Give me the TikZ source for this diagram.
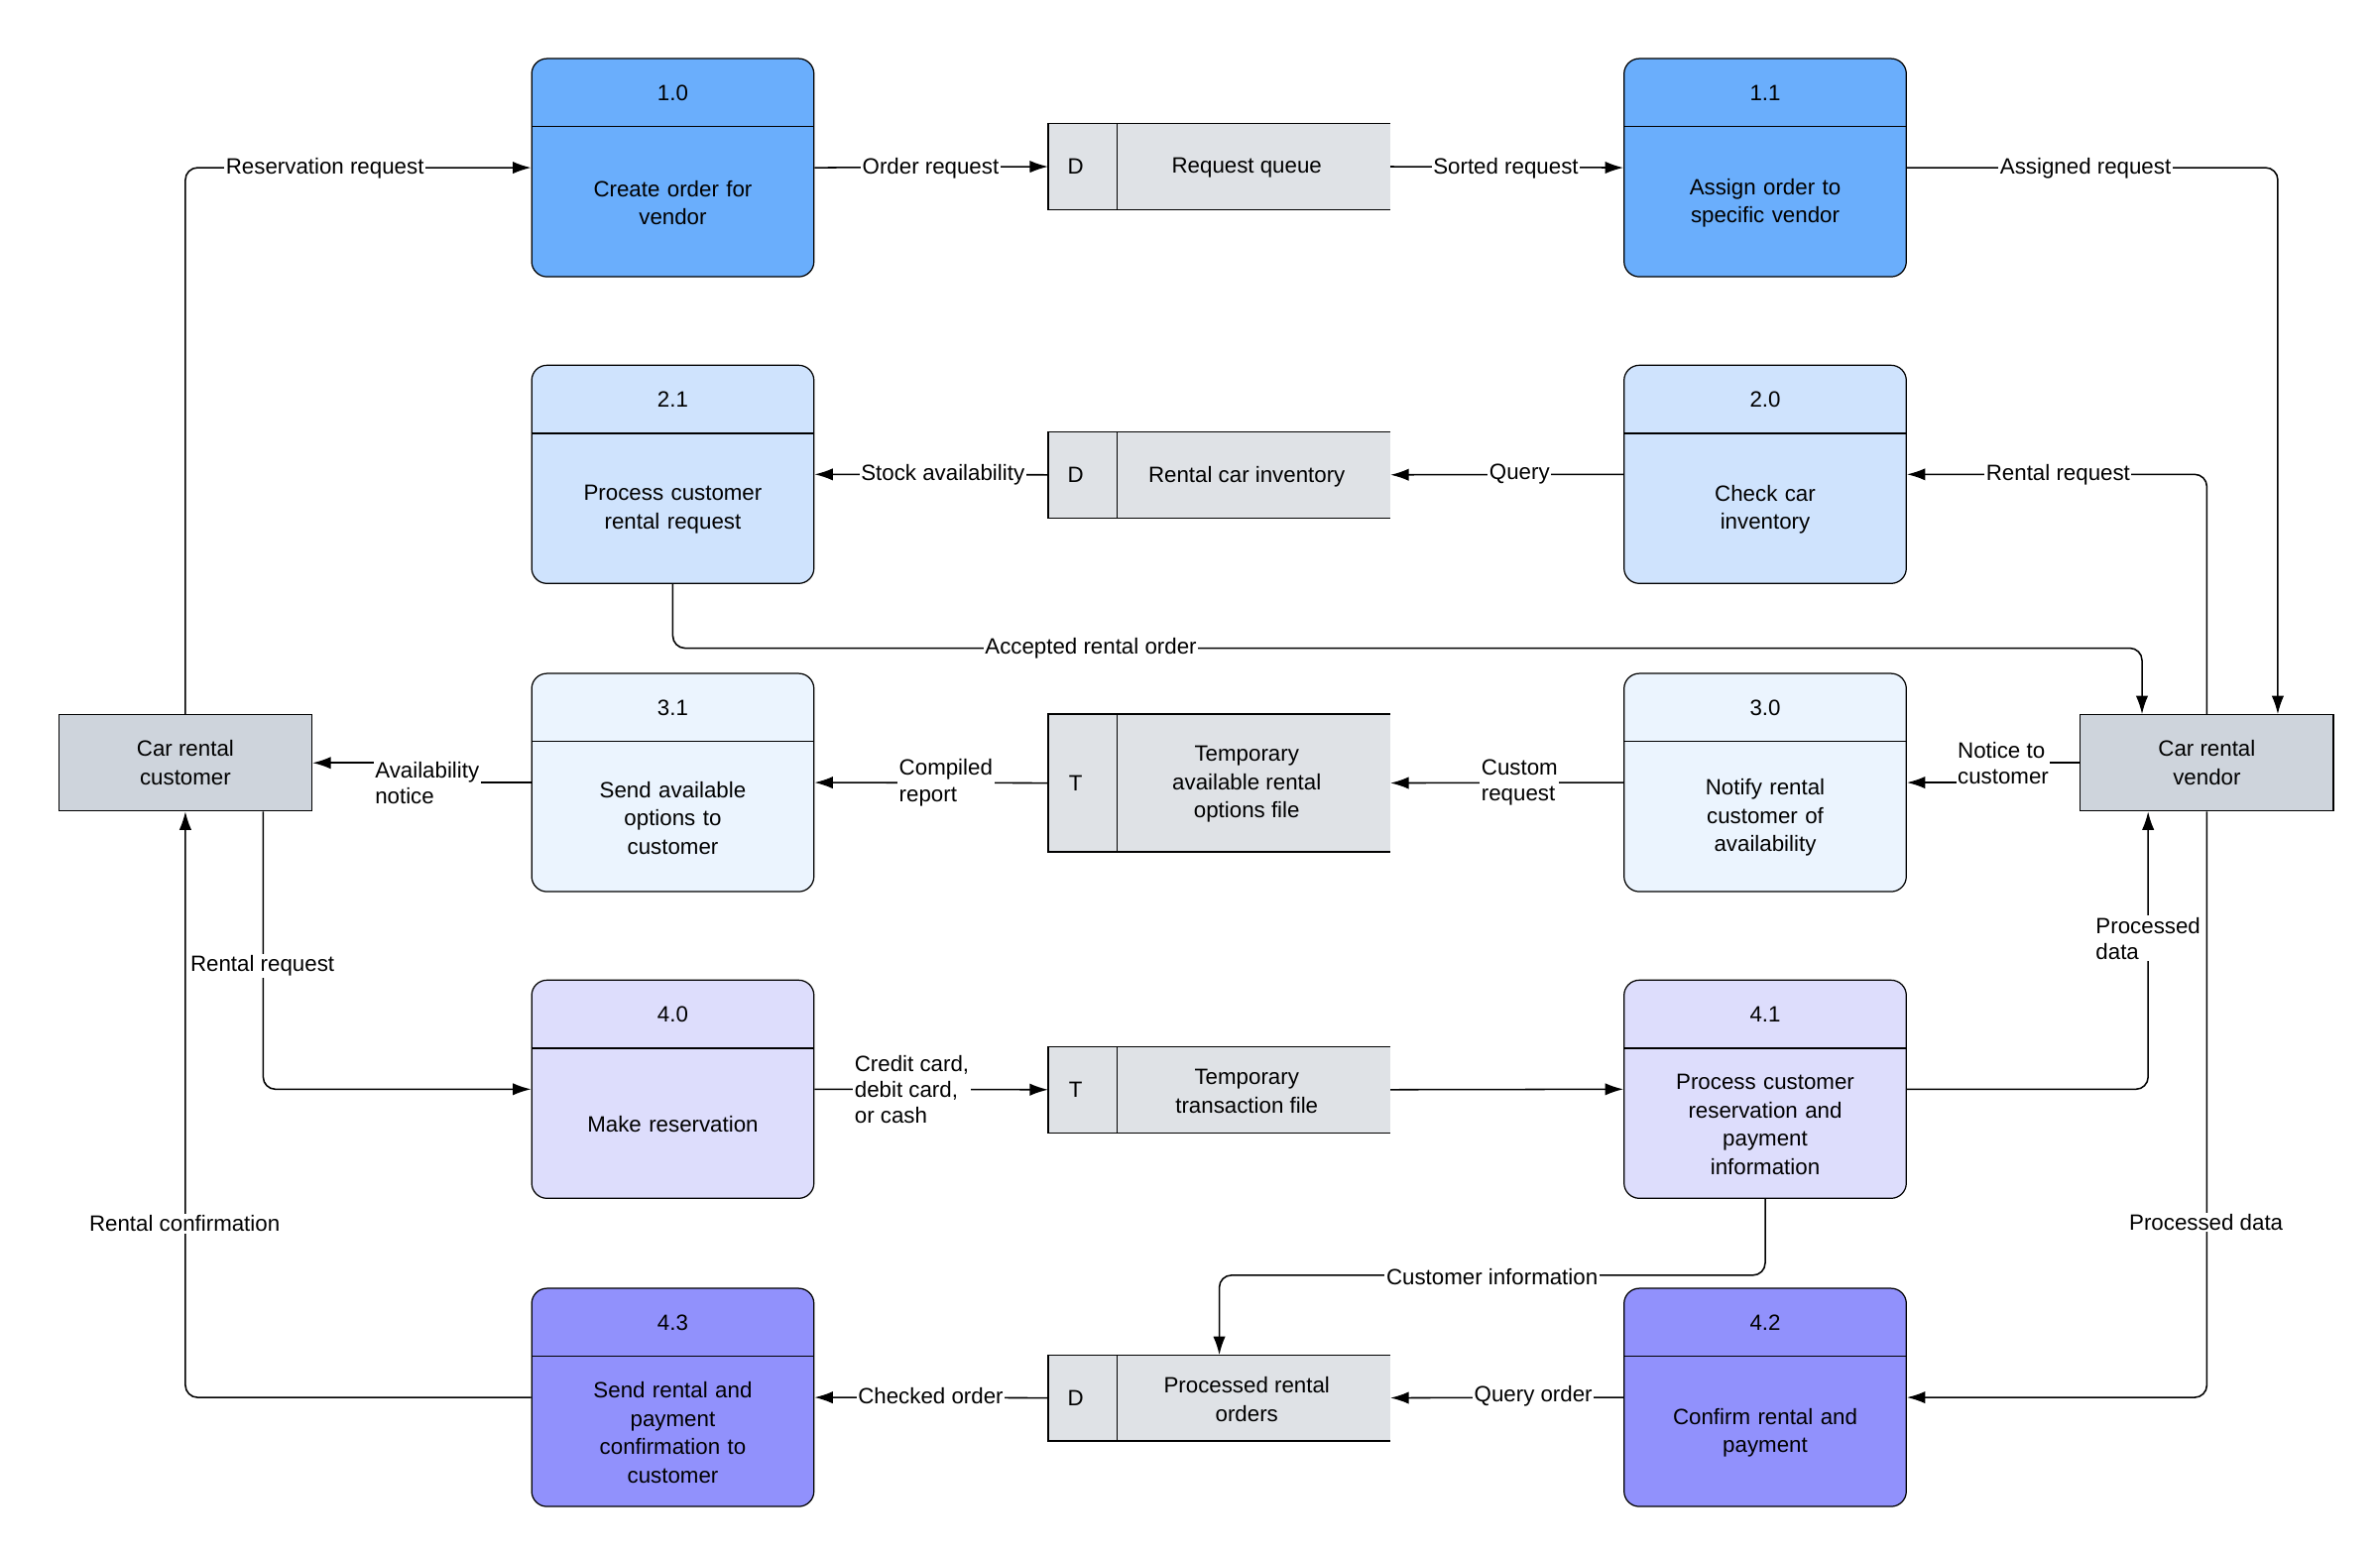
\documentclass[tikz,border=0pt]{standalone}
\usepackage{fontspec}
\setmainfont{Liberation Sans}
\usetikzlibrary{arrows.meta}
\definecolor{cA}{HTML}{6AAEFC}
\definecolor{cB}{HTML}{CFE3FD}
\definecolor{cC}{HTML}{EBF4FE}
\definecolor{cD}{HTML}{DDDDFC}
\definecolor{cE}{HTML}{9191FC}
\definecolor{cEnt}{HTML}{CED4DC}
\definecolor{cSt}{HTML}{DFE2E6}
\tikzset{
  proc/.style={draw=black, rounded corners=10pt, minimum width=185pt, minimum height=143pt, inner sep=0pt, line width=0.8pt},
  ent/.style={draw=black, fill=cEnt, minimum width=166pt, minimum height=63pt, inner sep=0pt, align=center, line width=0.8pt},
  arr/.style={-{Latex[length=12pt,width=8pt]}, line width=1pt, rounded corners=8pt},
  lbl/.style={fill=white, inner sep=1pt, align=center, font=\fontsize{14.5}{17}\selectfont},
}
\newcommand\proc[6]{%
  \node[proc, fill=#6, anchor=north] (#1) at (#2,#3) {};
  \draw[line width=0.8pt] ([yshift=-45pt]#1.north west) -- ([yshift=-45pt]#1.north east);
  \node[font=\fontsize{14.5}{17}\selectfont] at ([yshift=-23pt]#1.north) {#4};
  \node[align=center, text width=170pt, font=\fontsize{14.5}{18.5}\selectfont] at ([yshift=-95pt]#1.north) {#5};
}
\newcommand\store[6]{%
  \node[fill=cSt, minimum width=224pt, minimum height=#4, inner sep=0pt, anchor=north west] (#1) at (#2,#3) {};
  \draw[line width=0.8pt] (#1.north east) -- (#1.north west) -- (#1.south west) -- (#1.south east);
  \draw[line width=0.6pt] ([xshift=45pt]#1.north west) -- ([xshift=45pt]#1.south west);
  \node[font=\fontsize{14.5}{17}\selectfont] at ([xshift=18pt]#1.west) {#5};
  \node[align=center, font=\fontsize{14.5}{18.5}\selectfont] at ([xshift=18pt,yshift=-1pt]#1.center) {#6};
}
\begin{document}
\begin{tikzpicture}[x=1pt,y=-1pt]
\useasboundingbox (0,0) rectangle (1560,1020);
\fill[white] (0,0) rectangle (1560,1020);
\proc{p10}{441}{38}{1.0}{Create order for\\vendor}{cA}
\proc{p11}{1157}{38}{1.1}{Assign order to\\specific vendor}{cA}
\proc{p21}{441}{239}{2.1}{Process customer\\rental request}{cB}
\proc{p20}{1157}{239}{2.0}{Check car\\inventory}{cB}
\proc{p31}{441}{441}{3.1}{Send available\\options to\\customer}{cC}
\proc{p30}{1157}{441}{3.0}{Notify rental\\customer of\\availability}{cC}
\proc{p40}{441}{642}{4.0}{Make reservation}{cD}
\proc{p41}{1157}{642}{4.1}{Process customer\\reservation and\\payment\\information}{cD}
\proc{p43}{441}{844}{4.3}{Send rental and\\payment\\confirmation to\\customer}{cE}
\proc{p42}{1157}{844}{4.2}{Confirm rental and\\payment}{cE}
\store{s1}{687}{81}{56pt}{D}{Request queue}
\store{s2}{687}{283}{56pt}{D}{Rental car inventory}
\store{s3}{687}{468}{90pt}{T}{Temporary\\available rental\\options file}
\store{s4}{687}{686}{56pt}{T}{Temporary\\transaction file}
\store{s5}{687}{888}{56pt}{D}{Processed rental\\orders}
\node[ent, font=\fontsize{14.5}{18.5}\selectfont] (cust) at (121.5,500) {Car rental\\customer};
\node[ent, font=\fontsize{14.5}{18.5}\selectfont] (vend) at (1446.5,500) {Car rental\\vendor};
% connectors
\draw[arr] (cust.north) |- (p10.west);
\draw[arr] (p10.east) -- (s1.west);
\draw[arr] (s1.east) -- (p11.west);
\draw[arr] (p11.east) -| ([xshift=46.5pt]vend.north);
\draw[arr] (vend.north) |- (p20.east);
\draw[arr] (p20.west) -- (s2.east);
\draw[arr] (s2.west) -- (p21.east);
\draw[arr] (p21.south) -- ++(0,42) -| ([xshift=-42.5pt]vend.north);
\draw[arr, rounded corners=0pt] (vend.west) -- ++(-30,0) |- (p30.east);
\draw[arr] (p30.west) -- (s3.east);
\draw[arr] (s3.west) -- (p31.east);
\draw[arr, rounded corners=0pt] (p31.west) -- ++(-86,0) |- (cust.east);
\draw[arr] ([xshift=51pt]cust.south) |- (p40.west);
\draw[arr] (p40.east) -- (s4.west);
\draw[arr] (s4.east) -- (p41.west);
\draw[arr] (p41.east) -| ([xshift=-38.5pt]vend.south);
\draw[arr] (vend.south) |- (p42.east);
\draw[arr] (p41.south) -- ++(0,50) -| (s5.north);
\draw[arr] (p42.west) -- (s5.east);
\draw[arr] (s5.west) -- (p43.east);
\draw[arr] (p43.west) -| (cust.south);
% labels
\node[lbl] at (213,110) {Reservation request};
\node[lbl] at (610,110) {Order request};
\node[lbl] at (987,110) {Sorted request};
\node[lbl] at (1367,110) {Assigned request};
\node[lbl] at (1349,311) {Rental request};
\node[lbl] at (996,311) {Query};
\node[lbl] at (618,311) {Stock availability};
\node[lbl] at (715,425) {Accepted rental order};
\node[lbl, align=left] at (1313,500) {Notice to\\customer};
\node[lbl, align=left] at (996,513) {Custom\\request};
\node[lbl, align=left] at (620,513) {Compiled\\report};
\node[lbl, align=left] at (280,513) {Availability\\notice};
\node[lbl] at (172,633) {Rental request};
\node[lbl, align=left, anchor=west] at (559,714) {Credit card,\\debit card,\\or cash};
\node[lbl, align=left] at (1408,615) {Processed\\data};
\node[lbl] at (1446,801) {Processed data};
\node[lbl] at (978,837) {Customer information};
\node[lbl] at (1005,915) {Query order};
\node[lbl] at (610,915) {Checked order};
\node[lbl] at (121,802) {Rental confirmation};
\end{tikzpicture}
\end{document}
